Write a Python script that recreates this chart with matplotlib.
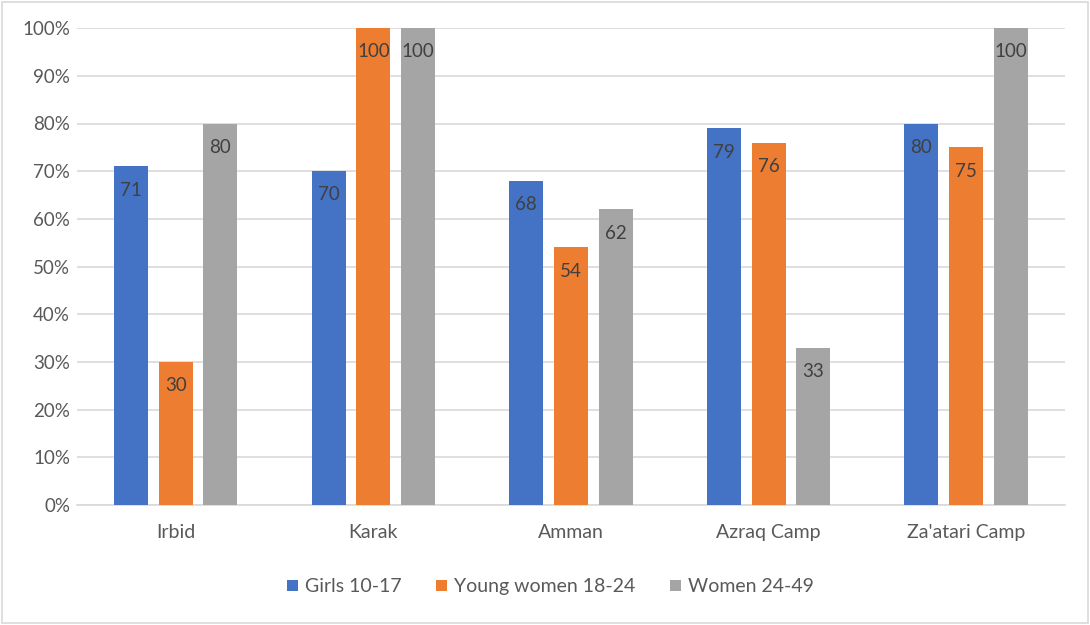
import matplotlib.pyplot as plt
import numpy as np
from matplotlib.patches import Rectangle

plt.rcParams['font.family'] = ['Lato', 'DejaVu Sans']

# Data
locations = ['Irbid', 'Karak', 'Amman', 'Azraq Camp', "Za'atari Camp"]
girls = [71, 70, 68, 79, 80]
young_women = [30, 100, 54, 76, 75]
women = [80, 100, 62, 33, 100]
series_names = ['Girls 10-17', 'Young women 18-24', 'Women 24-49']
colors = ['#4472C4', '#ED7D31', '#A5A5A5']

fig = plt.figure(figsize=(10.9, 6.25), dpi=100)
ax = fig.add_axes([0.0706, 0.192, 0.9064, 0.763])

x = np.arange(len(locations))
width = 0.172
step = 0.226

for i, (vals, name, col) in enumerate(zip([girls, young_women, women], series_names, colors)):
    bars = ax.bar(x + (i - 1) * step, vals, width, color=col, label=name, zorder=3)
    for bar, v in zip(bars, vals):
        ax.annotate(f"{v}", (bar.get_x() + bar.get_width() / 2, v),
                    xytext=(0, -11), textcoords='offset points',
                    ha='center', va='top', fontsize=13.5, color='#404040', zorder=4)

ax.set_xlim(-0.5, len(locations) - 0.5)
ax.set_ylim(0, 100)
ax.set_yticks(np.arange(0, 101, 10))
ax.set_yticklabels([f"{t}%" for t in range(0, 101, 10)])
ax.set_xticks(x)
ax.set_xticklabels(locations)
ax.tick_params(axis='x', length=0, labelsize=14, colors='#595959', pad=14)
ax.tick_params(axis='y', length=0, labelsize=13.5, colors='#595959', pad=5)
ax.yaxis.grid(True, color='#D9D9D9', linewidth=1.2, zorder=0)
for side in ['top', 'right', 'left']:
    ax.spines[side].set_visible(False)
ax.spines['bottom'].set_color('#D9D9D9')
ax.spines['bottom'].set_linewidth(1.2)

leg = fig.legend(loc='center', bbox_to_anchor=(0.505, 0.061), ncol=3, frameon=False,
                 fontsize=14, handlelength=0.55, handleheight=0.55, handletextpad=0.35,
                 columnspacing=1.8)
for t in leg.get_texts():
    t.set_color('#595959')

fig.patches.append(Rectangle((0.002, 0.003), 0.996, 0.994, transform=fig.transFigure,
                             fill=False, edgecolor='#D9D9D9', linewidth=1.2))

fig.savefig('out.png', dpi=100)
